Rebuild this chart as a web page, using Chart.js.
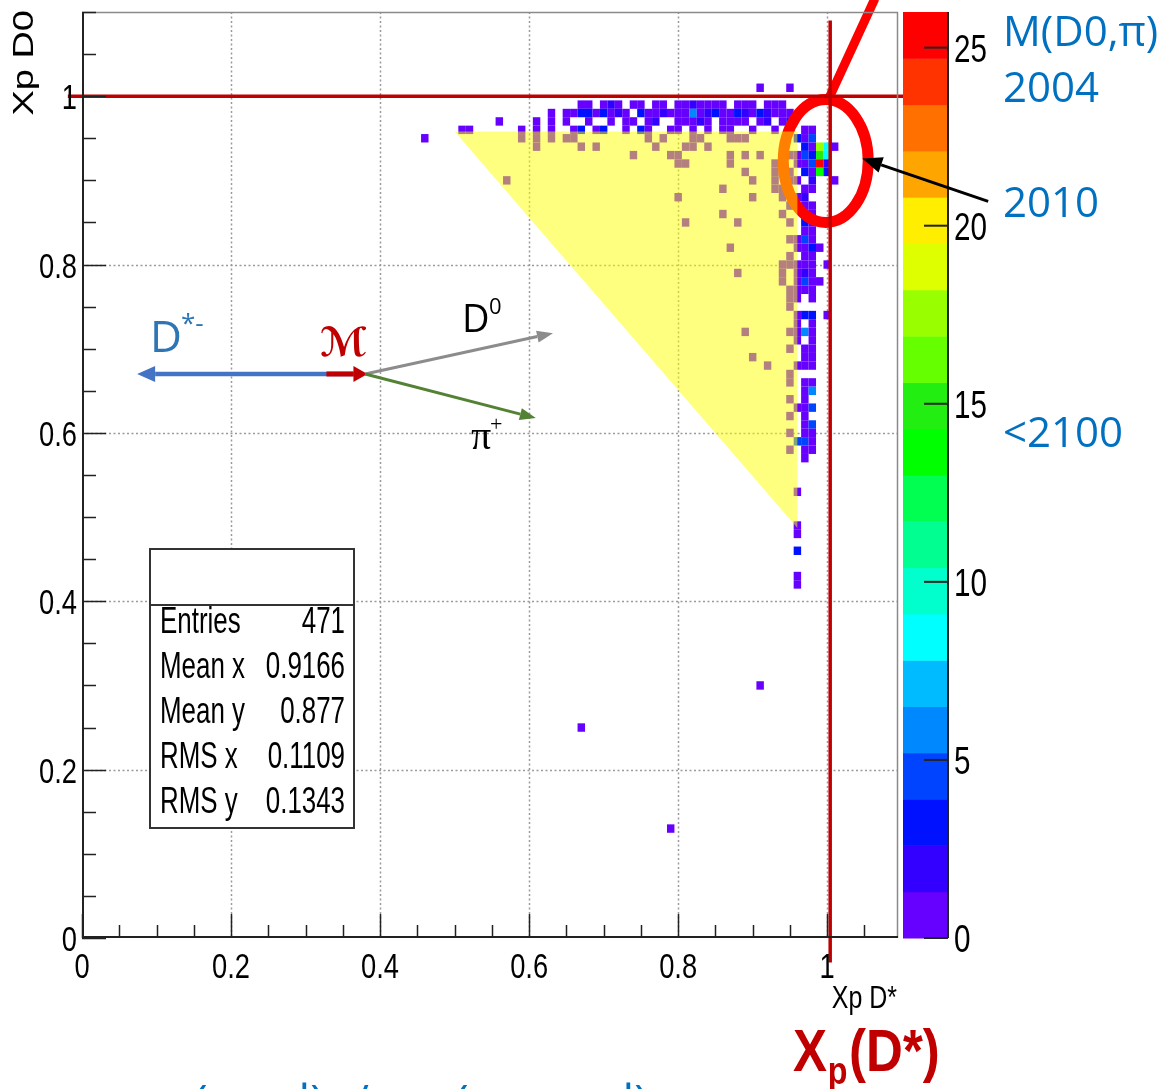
<!DOCTYPE html>
<html>
<head>
<meta charset="utf-8">
<script src="https://cdn.jsdelivr.net/npm/chart.js@4.4.1/dist/chart.umd.min.js"></script>
<style>
    html, body { margin: 0; padding: 0; background: #fff; }
    #wrap { width: 1166px; height: 1089px; }
</style>
</head>
<body>
<div id="wrap"><canvas id="myChart" width="1166" height="1089"></canvas></div>
<script>
// cells of the 2D histogram: [Xp D*, Xp D0, entries]
const topBand = [
    [0.91, 1.01, 1], [0.95, 1.01, 1],
    [0.67, 0.99, 1], [0.68, 0.99, 1], [0.70, 0.99, 1], [0.71, 0.99, 2], [0.72, 0.99, 1], [0.74, 0.99, 1],
    [0.75, 0.99, 1], [0.77, 0.99, 1], [0.78, 0.99, 1], [0.80, 0.99, 1], [0.81, 0.99, 1], [0.82, 0.99, 2],
    [0.83, 0.99, 1], [0.84, 0.99, 1], [0.85, 0.99, 1], [0.86, 0.99, 1], [0.88, 0.99, 1], [0.89, 0.99, 1],
    [0.90, 0.99, 1], [0.92, 0.99, 1], [0.93, 0.99, 1], [0.94, 0.99, 1],
    [0.63, 0.98, 1], [0.65, 0.98, 1], [0.66, 0.98, 1], [0.67, 0.98, 3], [0.68, 0.98, 3], [0.69, 0.98, 1],
    [0.70, 0.98, 3], [0.71, 0.98, 1], [0.72, 0.98, 2], [0.73, 0.98, 1], [0.75, 0.98, 3], [0.76, 0.98, 1],
    [0.77, 0.98, 1], [0.78, 0.98, 2], [0.79, 0.98, 1], [0.80, 0.98, 1], [0.81, 0.98, 1], [0.82, 0.98, 6],
    [0.83, 0.98, 1], [0.84, 0.98, 2], [0.85, 0.98, 3], [0.86, 0.98, 1], [0.87, 0.98, 1], [0.88, 0.98, 3],
    [0.89, 0.98, 2], [0.90, 0.98, 1], [0.91, 0.98, 3], [0.92, 0.98, 2], [0.93, 0.98, 1], [0.94, 0.98, 1],
    [0.95, 0.98, 1],
    [0.56, 0.97, 1], [0.61, 0.97, 1], [0.63, 0.97, 1], [0.65, 0.97, 1], [0.68, 0.97, 1], [0.71, 0.97, 1],
    [0.73, 0.97, 1], [0.74, 0.97, 1], [0.76, 0.97, 1], [0.77, 0.97, 2], [0.80, 0.97, 1], [0.81, 0.97, 1],
    [0.82, 0.97, 1], [0.83, 0.97, 2], [0.84, 0.97, 1], [0.86, 0.97, 1], [0.87, 0.97, 1], [0.88, 0.97, 1],
    [0.89, 0.97, 1], [0.91, 0.97, 1], [0.92, 0.97, 2], [0.94, 0.97, 1], [0.95, 0.97, 2],
    [0.51, 0.96, 1], [0.52, 0.96, 1], [0.59, 0.96, 1], [0.61, 0.96, 1], [0.63, 0.96, 1], [0.66, 0.96, 1],
    [0.67, 0.96, 3], [0.69, 0.96, 1], [0.70, 0.96, 3], [0.73, 0.96, 1], [0.75, 0.96, 3], [0.76, 0.96, 1],
    [0.79, 0.96, 1], [0.80, 0.96, 1], [0.82, 0.96, 1], [0.84, 0.96, 1], [0.86, 0.96, 1], [0.87, 0.96, 1],
    [0.90, 0.96, 1], [0.93, 0.96, 1], [0.97, 0.96, 1], [0.98, 0.96, 1]
];
const peak = [
    [0.96, 0.95, 3], [0.97, 0.95, 1], [0.98, 0.95, 4],
    [0.97, 0.94, 3], [0.98, 0.94, 1], [0.99, 0.94, 17], [1.00, 0.94, 9], [1.01, 0.94, 1],
    [0.96, 0.93, 1], [0.97, 0.93, 4], [0.98, 0.93, 3], [0.99, 0.93, 15], [1.00, 0.93, 8],
    [0.96, 0.92, 1], [0.97, 0.92, 1], [0.98, 0.92, 4], [0.99, 0.92, 26], [1.00, 0.92, 2],
    [0.97, 0.91, 3], [0.98, 0.91, 1], [0.99, 0.91, 14], [1.00, 0.91, 3],
    [0.96, 0.90, 1], [0.98, 0.90, 2], [1.01, 0.90, 1],
    [0.97, 0.89, 1], [0.98, 0.89, 1],
    [0.96, 0.88, 1], [0.97, 0.88, 2],
    [0.97, 0.87, 1], [0.98, 0.87, 1],
    [0.97, 0.86, 3], [0.98, 0.86, 1]
];
const strip = [
    [0.97, 0.85, 3], [0.98, 0.85, 1], [0.97, 0.84, 1], [0.98, 0.84, 1],
    [0.96, 0.83, 1], [0.97, 0.83, 4], [0.98, 0.83, 1],
    [0.96, 0.82, 1], [0.97, 0.82, 1], [0.98, 0.82, 3], [0.99, 0.82, 1],
    [0.97, 0.81, 1], [0.98, 0.81, 1],
    [0.96, 0.80, 1], [0.97, 0.80, 1], [0.98, 0.80, 1], [1.00, 0.80, 1],
    [0.96, 0.79, 1], [0.97, 0.79, 2], [0.98, 0.79, 1],
    [0.96, 0.78, 1], [0.97, 0.78, 4], [0.98, 0.78, 1], [0.99, 0.78, 1],
    [0.96, 0.77, 1], [0.97, 0.77, 1], [0.98, 0.77, 1],
    [0.96, 0.76, 1], [0.98, 0.76, 1],
    [0.96, 0.74, 1], [0.97, 0.74, 3], [0.98, 0.74, 3], [1.00, 0.74, 1],
    [0.96, 0.73, 1], [0.98, 0.73, 1],
    [0.96, 0.72, 1], [0.97, 0.72, 6], [0.98, 0.72, 1],
    [0.96, 0.71, 1], [0.98, 0.71, 1],
    [0.97, 0.70, 1], [0.98, 0.70, 1],
    [0.97, 0.69, 1], [0.98, 0.69, 1],
    [0.96, 0.68, 1], [0.97, 0.68, 1], [0.98, 0.68, 1],
    [0.97, 0.66, 1], [0.98, 0.66, 1],
    [0.97, 0.65, 1], [0.98, 0.65, 6],
    [0.97, 0.64, 1],
    [0.96, 0.63, 1], [0.97, 0.63, 1], [0.98, 0.63, 4],
    [0.97, 0.62, 1],
    [0.97, 0.61, 1], [0.98, 0.61, 4],
    [0.97, 0.60, 1], [0.98, 0.60, 1],
    [0.96, 0.59, 4], [0.97, 0.59, 4], [0.98, 0.59, 1],
    [0.97, 0.58, 1], [0.98, 0.58, 1],
    [0.97, 0.57, 1],
    [0.96, 0.53, 1], [0.96, 0.49, 1], [0.96, 0.48, 1], [0.96, 0.46, 3],
    [0.96, 0.43, 1], [0.96, 0.42, 1]
];
const underTriangle = [
    [0.59, 0.95, 1], [0.61, 0.95, 1], [0.61, 0.94, 1], [0.63, 0.95, 1], [0.65, 0.95, 1], [0.66, 0.95, 1],
    [0.67, 0.94, 1], [0.69, 0.94, 1], [0.57, 0.90, 1], [0.74, 0.93, 1], [0.76, 0.95, 1], [0.77, 0.94, 1],
    [0.78, 0.95, 1], [0.79, 0.93, 1], [0.80, 0.93, 1], [0.80, 0.92, 1], [0.81, 0.92, 1], [0.80, 0.88, 1],
    [0.81, 0.85, 1], [0.81, 0.94, 1], [0.82, 0.94, 1], [0.82, 0.95, 1], [0.83, 0.95, 1], [0.84, 0.94, 1],
    [0.86, 0.89, 1], [0.86, 0.86, 1], [0.87, 0.95, 1], [0.88, 0.95, 1], [0.89, 0.95, 1], [0.87, 0.93, 1],
    [0.87, 0.92, 1], [0.88, 0.85, 1], [0.87, 0.82, 1], [0.89, 0.93, 1], [0.89, 0.91, 1], [0.90, 0.90, 1],
    [0.90, 0.88, 1], [0.91, 0.93, 1], [0.93, 0.92, 1], [0.93, 0.91, 1], [0.93, 0.90, 1], [0.93, 0.89, 1],
    [0.94, 0.89, 1], [0.94, 0.88, 1], [0.94, 0.86, 1], [0.94, 0.80, 1], [0.88, 0.79, 1], [0.94, 0.79, 1],
    [0.94, 0.78, 1], [0.95, 0.80, 1], [0.95, 0.76, 1], [0.95, 0.75, 1], [0.89, 0.72, 1], [0.95, 0.72, 1],
    [0.90, 0.69, 1], [0.92, 0.68, 1], [0.95, 0.67, 1], [0.95, 0.66, 1], [0.95, 0.62, 1], [0.95, 0.58, 1],
    [0.95, 0.93, 1], [0.95, 0.91, 1], [0.95, 0.90, 1], [0.95, 0.87, 1], [0.95, 0.85, 1], [0.95, 0.83, 1],
    [0.95, 0.81, 1], [0.95, 0.77, 1], [0.95, 0.70, 1], [0.95, 0.64, 1], [0.95, 0.60, 1]
];
const stray = [[0.46, 0.95, 1], [0.67, 0.25, 1], [0.91, 0.30, 1], [0.79, 0.13, 1]];

const xTicks = [0, 0.2, 0.4, 0.6, 0.8, 1];
const xTickLabels = ["0", "0.2", "0.4", "0.6", "0.8", "1"];
const yTicks = [0, 0.2, 0.4, 0.6, 0.8, 1];
const yTickLabels = ["0", "0.2", "0.4", "0.6", "0.8", "1"];
const zTicks = [0, 5, 10, 15, 20, 25];
const zMax = 26;
const statsLabels = ["Entries", "Mean x", "Mean y", "RMS x", "RMS y"];
const statsValues = ["471", "0.9166", "0.877", "0.1109", "0.1343"];

// ROOT palette, bottom to top
const palette = ["#6600ff", "#3300ff", "#0011ff", "#0044ff", "#0088ff", "#00bbff", "#00ffff", "#00ffcc",
    "#00ff90", "#00ff50", "#00ff00", "#22ee11", "#66ff00", "#99ff00", "#ddff00", "#ffee00",
    "#ffa500", "#ff7000", "#ff3300", "#ff0000"];
const SQ = 0.78; // the ROOT picture is squeezed sideways
const ROOTFONT = "'Liberation Sans', Arial, sans-serif";
const PPTFONT = "'Open Sans', 'Noto Sans', sans-serif";
const X_MAX = 1.095;

function cellColor(n) {
    const i = Math.floor(n / (zMax / palette.length));
    return palette[Math.min(i, palette.length - 1)];
}

function rootText(c, txt, x, y, size, align, color, sq) {
    c.save();
    c.translate(x, y);
    c.scale(sq || SQ, 1);
    c.font = size + "px " + ROOTFONT;
    c.textAlign = align;
    c.textBaseline = "alphabetic";
    c.fillStyle = color || "#000";
    c.fillText(txt, 0, 0);
    c.restore();
}

function plainText(c, txt, x, y, font, color, align) {
    c.font = font;
    c.fillStyle = color;
    c.textAlign = align || "left";
    c.textBaseline = "alphabetic";
    c.fillText(txt, x, y);
}

function arrow(c, x1, y1, x2, y2, color, w, hl, hw) {
    const a = Math.atan2(y2 - y1, x2 - x1);
    const bx = x2 - hl * Math.cos(a), by = y2 - hl * Math.sin(a);
    c.strokeStyle = color;
    c.lineWidth = w;
    c.setLineDash([]);
    c.beginPath();
    c.moveTo(x1, y1);
    c.lineTo(bx, by);
    c.stroke();
    c.fillStyle = color;
    c.beginPath();
    c.moveTo(x2, y2);
    c.lineTo(bx + hw * Math.sin(a), by - hw * Math.cos(a));
    c.lineTo(bx - hw * Math.sin(a), by + hw * Math.cos(a));
    c.closePath();
    c.fill();
}

const rootPlugin = {
    id: "rootDraw",
    beforeDatasetsDraw(chart) {
        const c = chart.ctx, xs = chart.scales.x, ys = chart.scales.y, a = chart.chartArea;
        c.save();
        c.strokeStyle = "#9a9a9a";
        c.lineWidth = 1.5;
        c.setLineDash([2, 2.5]);
        xTicks.forEach(v => {
            if (v === 0) return;
            const p = Math.round(xs.getPixelForValue(v)) + 0.5;
            c.beginPath(); c.moveTo(p, a.top); c.lineTo(p, a.bottom); c.stroke();
        });
        yTicks.forEach(v => {
            if (v === 0) return;
            const p = Math.round(ys.getPixelForValue(v)) + 0.5;
            c.beginPath(); c.moveTo(a.left, p); c.lineTo(a.right, p); c.stroke();
        });
        c.restore();
    },
    afterDatasetsDraw(chart) {
        const c = chart.ctx, xs = chart.scales.x, ys = chart.scales.y, zs = chart.scales.z, a = chart.chartArea;
        const X = v => xs.getPixelForValue(v), Y = v => ys.getPixelForValue(v);
        c.save();

        // histogram cells
        chart.data.datasets[0].data.forEach(p => {
            const x1 = X(p.x - 0.005), x2 = X(p.x + 0.005);
            const y1 = Y(p.y + 0.005), y2 = Y(p.y - 0.005);
            c.fillStyle = cellColor(p.n);
            c.fillRect(x1, y1, x2 - x1, y2 - y1);
        });

        // red ellipse around the peak and its pointer line
        const ex = X(0.998), ey = Y(0.923);
        c.strokeStyle = "#ff0000";
        c.lineWidth = 11;
        c.beginPath();
        c.ellipse(ex, ey, X(0.998 + 0.057) - ex, ey - Y(0.923 + 0.073), 0, 0, Math.PI * 2);
        c.stroke();
        c.lineWidth = 9;
        c.beginPath();
        c.moveTo(X(1.001), Y(0.995));
        c.lineTo(X(1.064), Y(1.116));
        c.stroke();

        // red cut lines
        c.strokeStyle = "#c00000";
        c.lineWidth = 3.5;
        c.beginPath();
        c.moveTo(X(-0.019), Y(1.0)); c.lineTo(X(1.148), Y(1.0));
        c.moveTo(X(1.004), Y(1.09)); c.lineTo(X(1.004), Y(-0.029));
        c.stroke();

        // kinematic triangle
        c.fillStyle = "rgba(255,255,0,0.5)";
        c.beginPath();
        c.moveTo(X(0.5), Y(0.958));
        c.lineTo(X(0.96), Y(0.958));
        c.lineTo(X(0.96), Y(0.487));
        c.closePath();
        c.fill();

        // frame
        c.lineWidth = 1.5;
        c.strokeStyle = "#8a8a8a";
        c.beginPath();
        c.moveTo(a.left, a.top + 0.5); c.lineTo(a.right - 0.5, a.top + 0.5); c.lineTo(a.right - 0.5, a.bottom);
        c.stroke();
        c.strokeStyle = "#222";
        c.lineWidth = 2;
        c.beginPath();
        c.moveTo(a.left + 1, a.top); c.lineTo(a.left + 1, a.bottom - 1); c.lineTo(a.right, a.bottom - 1);
        c.stroke();

        // ticks
        c.lineWidth = 1.5;
        for (let k = 0; k <= 22; k++) {
            const v = k * 0.05, major = k % 4 === 0;
            const py = Math.round(Y(v)) + 0.5;
            c.beginPath();
            if (v <= X_MAX) {
                const px = Math.round(X(v)) + 0.5;
                c.moveTo(px, a.bottom); c.lineTo(px, a.bottom - (major ? 24 : 13));
            }
            c.moveTo(a.left, py); c.lineTo(a.left + (major ? 24 : 14), py);
            c.stroke();
        }
        xTicks.forEach((v, i) => rootText(c, xTickLabels[i], X(v), a.bottom + 40, 35, "center"));
        yTicks.forEach((v, i) => rootText(c, yTickLabels[i], a.left - 5, Y(v) + 13, 35, "right"));

        // axis titles
        rootText(c, "Xp D*", a.right - 1, a.bottom + 70, 32, "right");
        c.save();
        c.translate(33, 10);
        c.scale(SQ, 1);
        c.rotate(-Math.PI / 2);
        c.font = "38px " + ROOTFONT;
        c.textAlign = "right";
        c.fillStyle = "#000";
        c.fillText("Xp D0", 0, 0);
        c.restore();

        // stats box
        c.fillStyle = "#fff";
        c.fillRect(150, 549, 204, 279);
        c.strokeStyle = "#333";
        c.lineWidth = 2;
        c.strokeRect(150, 549, 204, 279);
        c.beginPath(); c.moveTo(150, 605); c.lineTo(354, 605); c.stroke();
        statsLabels.forEach((s, i) => {
            rootText(c, s, 160, 633 + i * 45, 37, "left", "#000", 0.7);
            rootText(c, statsValues[i], 345, 633 + i * 45, 37, "right", "#000", 0.7);
        });

        // colour bar
        const bw = zMax / palette.length;
        palette.forEach((col, i) => {
            const t = zs.getPixelForValue((i + 1) * bw), b = zs.getPixelForValue(i * bw);
            c.fillStyle = col;
            c.fillRect(903, t, 45, b - t + 0.5);
        });
        c.strokeStyle = "#222";
        c.lineWidth = 2;
        c.beginPath(); c.moveTo(948, zs.getPixelForValue(zMax)); c.lineTo(948, zs.getPixelForValue(0)); c.stroke();
        zTicks.forEach(v => {
            const p = zs.getPixelForValue(v);
            c.beginPath(); c.moveTo(924, p); c.lineTo(948, p); c.stroke();
            rootText(c, String(v), 954, p + 14, 38, "left");
        });

        // decay sketch
        const ay = Y(0.670);
        arrow(c, X(0.373), ay, X(0.074), ay, "#4472c4", 4.5, 18, 8);
        arrow(c, X(0.328), ay, X(0.383), ay, "#c00000", 5, 14, 8);
        arrow(c, X(0.380), ay, X(0.632), Y(0.7185), "#8c8c8c", 3, 16, 6);
        arrow(c, X(0.380), ay, X(0.609), Y(0.6176), "#548235", 3, 16, 6);
        plainText(c, "D", 150, 352, "44px " + PPTFONT, "#2e75b6");
        plainText(c, "*-", 181, 332, "26px " + PPTFONT, "#2e75b6");
        plainText(c, "\u2133", 320, 356, "bold italic 40px 'DejaVu Serif', 'DejaVu Sans', serif", "#c00000");
        plainText(c, "D", 462, 332, "38px " + PPTFONT, "#000");
        plainText(c, "0", 489, 314, "22px " + PPTFONT, "#000");
        plainText(c, "\u03c0", 471, 449, "40px 'Liberation Serif', 'DejaVu Serif', serif", "#000");
        plainText(c, "+", 490, 431, "22px 'Liberation Serif', serif", "#000");

        // pointer to the peak
        arrow(c, X(1.216), Y(0.875), X(1.047), Y(0.926), "#000", 3, 20, 8);

        // slide annotations
        const blue = "#0070c0";
        plainText(c, "M(D0,\u03c0)", 1003, 46, "42px " + PPTFONT, blue);
        plainText(c, "2004", 1003, 102, "42px " + PPTFONT, blue);
        plainText(c, "2010", 1003, 217, "42px " + PPTFONT, blue);
        plainText(c, "<2100", 1003, 447, "42px " + PPTFONT, blue);

        // big axis caption
        c.save();
        c.translate(793, 1071);
        c.scale(0.85, 1);
        c.font = "bold 60px " + ROOTFONT;
        c.fillStyle = "#c00000";
        c.fillText("X", 0, 0);
        c.font = "bold 38px " + ROOTFONT;
        c.fillText("p", 41, 13);
        c.font = "bold 60px " + ROOTFONT;
        c.fillText("(D*)", 66, 0);
        c.restore();

        // caption cut by the picture edge
        c.font = "46px " + PPTFONT;
        c.fillStyle = blue;
        c.fillText("(", 194, 1118);
        c.fillText("d)", 282, 1118);
        c.fillText("/", 352, 1118);
        c.fillText("(", 455, 1118);
        c.fillText("d)", 606, 1118);

        c.restore();
    }
};

const allCells = [...topBand, ...peak, ...strip, ...underTriangle, ...stray];
const ctx = document.querySelector("#myChart").getContext("2d");
const myChart = new Chart(ctx, {
    type: "scatter",
    data: {
        datasets: [{
            label: "Xp D0 vs Xp D*",
            data: allCells.map(c => ({ x: c[0], y: c[1], n: c[2] })),
            pointRadius: 0,
            pointHoverRadius: 0
        }]
    },
    options: {
        responsive: false,
        animation: false,
        layout: { padding: { left: 82, top: 12, right: 268, bottom: 151 } },
        plugins: { legend: { display: false }, tooltip: { enabled: false } },
        scales: {
            x: { type: "linear", min: 0, max: X_MAX, display: false },
            y: { type: "linear", min: 0, max: 1.1, display: false },
            z: { type: "linear", axis: "y", min: 0, max: zMax, display: false }
        }
    },
    plugins: [rootPlugin]
});
</script>
</body>
</html>
